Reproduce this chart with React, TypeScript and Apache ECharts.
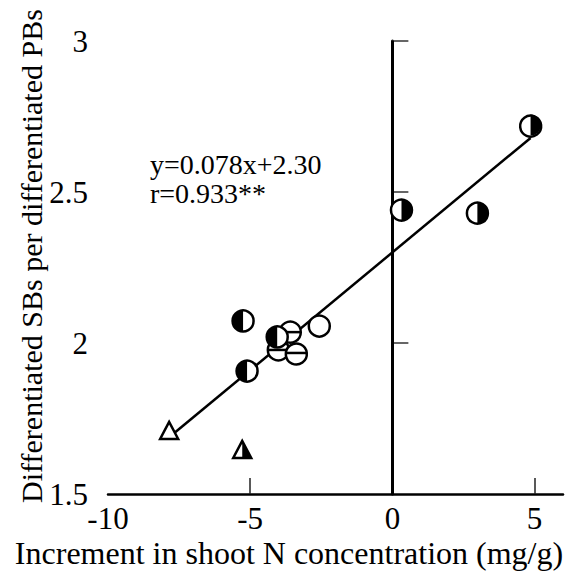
import React, { useEffect, useRef } from 'react';
import * as echarts from 'echarts';

// ---- data ----
const xValues = [-5.25, -2.57, -3.59, -4.01, -3.38, -4.05, -5.11, 4.86, 0.32, 2.99, -7.85, -5.28];
const yValues = [2.073, 2.056, 2.036, 1.977, 1.967, 2.02, 1.907, 2.722, 2.44, 2.43, 1.709, 1.646];
// halfL: left half black, halfR: right half black, minus: circle with bar, open: open circle,
// tri: open triangle, triHalf: triangle with right half black
const markerKinds = ['halfL', 'open', 'minus', 'minus', 'minus', 'halfL', 'halfL', 'halfR', 'halfR', 'halfR', 'tri', 'triHalf'];
const fitSlope = 0.078;
const fitIntercept = 2.3;
const fitXRange = [-7.85, 4.86];
const xTickLabels = [-10, -5, 0, 5];
const xTickMarks = [-5, 5];
const yTickLabels = [1.5, 2, 2.5, 3];
const yTickMarks = [2, 2.5, 3];
const annotationLines = ['y=0.078x+2.30', 'r=0.933**'];
const xTitle = 'Increment in shoot N concentration (mg/g)';
const yTitle = 'Differentiated SBs per differentiated PBs';

const FONT = '"Liberation Serif", "Times New Roman", serif';

export default function App() {
  const ref = useRef<HTMLDivElement>(null);
  useEffect(() => {
    const chart = echarts.init(ref.current!, null, { renderer: 'svg' });
    const fitData = fitXRange.map((x) => [x, fitSlope * x + fitIntercept]);
    const pts = xValues.map((x, i) => [x, yValues[i], i]);

    const renderItem = (params: any, api: any) => {
      const k = markerKinds[api.value(2)];
      const [cx, cy] = api.coord([api.value(0), api.value(1)]);
      const r = 10.5;
      const lw = 2.5;
      if (k === 'tri' || k === 'triHalf') {
        const top = [cx, cy - 9];
        const bl = [cx - 9, cy + 8];
        const br = [cx + 9, cy + 8];
        const children: any[] = [
          { type: 'polygon', shape: { points: [top, bl, br] }, style: { fill: '#fff', stroke: 'none' } },
        ];
        if (k === 'triHalf') {
          children.push({ type: 'polygon', shape: { points: [top, br, [cx, cy + 8]] }, style: { fill: '#000' } });
        }
        children.push({
          type: 'polygon',
          shape: { points: [top, bl, br] },
          style: { fill: 'none', stroke: '#000', lineWidth: lw, lineJoin: 'miter' },
        });
        return { type: 'group', children };
      }
      const children: any[] = [{ type: 'circle', shape: { cx, cy, r }, style: { fill: '#fff' } }];
      if (k === 'halfL') {
        children.push({
          type: 'sector',
          shape: { cx, cy, r, r0: 0, startAngle: Math.PI / 2, endAngle: (3 * Math.PI) / 2, clockwise: true },
          style: { fill: '#000' },
        });
      } else if (k === 'halfR') {
        children.push({
          type: 'sector',
          shape: { cx, cy, r, r0: 0, startAngle: -Math.PI / 2, endAngle: Math.PI / 2, clockwise: true },
          style: { fill: '#000' },
        });
      } else if (k === 'minus') {
        children.push({
          type: 'line',
          shape: { x1: cx - r, y1: cy, x2: cx + r, y2: cy },
          style: { stroke: '#000', lineWidth: lw },
        });
      }
      children.push({ type: 'circle', shape: { cx, cy, r }, style: { fill: 'none', stroke: '#000', lineWidth: lw } });
      return { type: 'group', children };
    };

    chart.setOption({
      animation: false,
      grid: { left: 108, right: 9, top: 41, bottom: 80 },
      xAxis: {
        type: 'value',
        min: -10,
        max: 6,
        interval: 5,
        axisLine: { lineStyle: { color: '#000', width: 2.5 } },
        axisTick: { inside: true, length: 16, customValues: xTickMarks, lineStyle: { color: '#222', width: 1.5 } },
        axisLabel: { customValues: xTickLabels, fontSize: 31, color: '#000', fontFamily: FONT, margin: 9 },
        splitLine: { show: false },
      },
      yAxis: {
        type: 'value',
        min: 1.5,
        max: 3,
        interval: 0.5,
        axisLine: { show: true, lineStyle: { color: '#000', width: 3 } },
        axisTick: { show: true, inside: true, length: 16, customValues: yTickMarks, lineStyle: { color: '#333', width: 1.5 } },
        axisLabel: { customValues: yTickLabels, fontSize: 31, color: '#000', fontFamily: FONT, margin: 20 },
        splitLine: { show: false },
      },
      series: [
        {
          type: 'line',
          data: fitData,
          symbol: 'none',
          lineStyle: { color: '#000', width: 2.5 },
          z: 2,
          markLine: {
            silent: true,
            symbol: 'none',
            label: { show: false },
            lineStyle: { color: '#000', width: 3, type: 'solid' },
            data: [{ xAxis: 0 }],
          },
        },
        {
          type: 'custom',
          data: pts,
          encode: { x: 0, y: 1 },
          renderItem,
          z: 5,
        },
      ],
      graphic: [
        {
          type: 'text',
          left: 150,
          top: 150,
          style: { text: annotationLines[0], font: `28px ${FONT}`, fill: '#000' },
        },
        {
          type: 'text',
          left: 150,
          top: 179,
          style: { text: annotationLines[1], font: `28px ${FONT}`, fill: '#000' },
        },
        {
          type: 'text',
          x: 289,
          y: 553,
          style: { text: xTitle, font: `32px ${FONT}`, fill: '#000', align: 'center', verticalAlign: 'middle' },
        },
        {
          type: 'text',
          x: 31,
          y: 256,
          rotation: Math.PI / 2,
          style: { text: yTitle, font: `30px ${FONT}`, fill: '#000', align: 'center', verticalAlign: 'middle' },
        },
      ],
    });
    return () => chart.dispose();
  }, []);
  return <div ref={ref} style={{ width: 572, height: 574, position: 'absolute', left: 0, top: 0 }} />;
}
